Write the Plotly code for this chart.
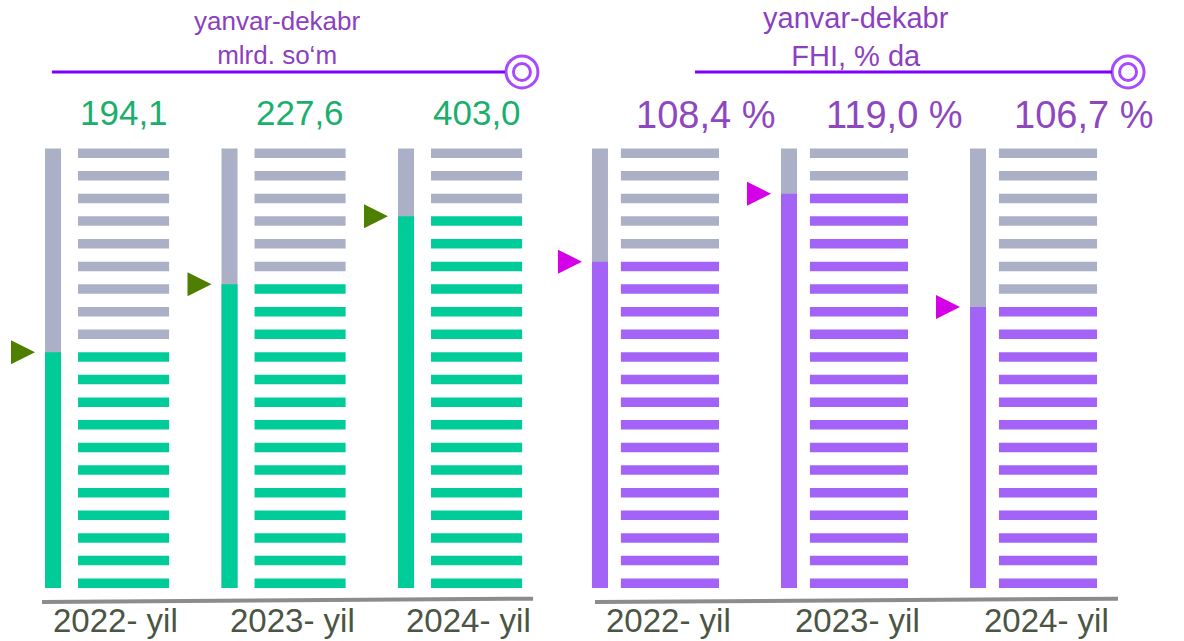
import plotly.graph_objects as go

years = ["2022- yil", "2023- yil", "2024- yil"]
som_labels = ["194,1", "227,6", "403,0"]
fhi_labels = ["108,4 %", "119,0 %", "106,7 %"]
som_filled = [11, 14, 17]   # coloured stripes out of 20
fhi_filled = [15, 18, 13]
n_stripes = 20

GRAY = "#abb0c6"
GREEN = "#00cc99"
PURPLE = "#a463f7"
HEAD = "#8c3fc0"
LINE = "#7f00ff"
FONT = "Liberation Sans, Arial, sans-serif"
STRIPE_H = 0.42

fig = go.Figure()


def add_panel(xa, ya, filled, fill_color, arrow_color, bar_off, bar_w, stripe_off, stripe_w):
    cols = list(range(len(filled)))
    # horizontal stripes, coloured from the bottom up
    xs, bases, colors = [], [], []
    for j, n in enumerate(filled):
        for i in range(n_stripes):
            xs.append(j)
            bases.append(i)
            colors.append(fill_color if i < n else GRAY)
    fig.add_trace(go.Bar(x=xs, y=[STRIPE_H] * len(xs), base=bases, width=stripe_w, offset=stripe_off,
                         marker=dict(color=colors, line_width=0), xaxis=xa, yaxis=ya, hoverinfo="skip"))
    # vertical gauge: grey track + coloured level
    top = n_stripes - 1 + STRIPE_H
    levels = [n - 1 + STRIPE_H for n in filled]
    fig.add_trace(go.Bar(x=cols, y=[top] * len(cols), base=0, width=bar_w, offset=bar_off,
                         marker=dict(color=GRAY, line_width=0), xaxis=xa, yaxis=ya, hoverinfo="skip"))
    fig.add_trace(go.Bar(x=cols, y=levels, base=0, width=bar_w, offset=bar_off,
                         marker=dict(color=fill_color, line_width=0), xaxis=xa, yaxis=ya, hoverinfo="skip"))
    # pointer triangles at the level
    for j, lv in enumerate(levels):
        fig.add_shape(type="path", xref=xa, yref=ya, xsizemode="pixel", ysizemode="pixel",
                      xanchor=j + bar_off, yanchor=lv, path="M -34,12 L -10,0 L -34,-12 Z",
                      fillcolor=arrow_color, line_width=0)


add_panel("x", "y", som_filled, GREEN, "#4f7f00", -0.351, 0.0907, -0.164, 0.516)
add_panel("x2", "y2", fhi_filled, PURPLE, "#d400e8", -0.336, 0.0847, -0.183, 0.519)

# value labels
for j, t in enumerate(som_labels):
    fig.add_annotation(x=j, y=21.0, xref="x", yref="y", text=t, showarrow=False, xshift=17,
                       font=dict(family=FONT, size=35, color="#1aaf6c"))
for j, t in enumerate(fhi_labels):
    fig.add_annotation(x=j, y=20.9, xref="x2", yref="y2", text=t, showarrow=False, xshift=50,
                       font=dict(family=FONT, size=38, color="#8f47bf"))

# year labels
for xa, ya, sh in (("x", "y", 9), ("x2", "y2", 13)):
    for j, t in enumerate(years):
        fig.add_annotation(x=j, y=-1.45, xref=xa, yref=ya, text=t, showarrow=False, xshift=sh,
                           font=dict(family=FONT, size=33, color="#4b5544"))

# headers
fig.add_annotation(x=1, y=24.3, xref="x", yref="y", text="yanvar-dekabr<br>mlrd. so‘m", showarrow=False,
                   xshift=-6, font=dict(family=FONT, size=26, color=HEAD))
fig.add_annotation(x=1.06, y=24.35, xref="x2", yref="y2", text="yanvar-dekabr<br>FHI, % da", showarrow=False,
                   font=dict(family=FONT, size=29, color=HEAD))

# header rules with ring ends, and base lines
for xa, ya, x0, x1, xc in (("x", "y", -0.312, 2.255, 2.351), ("x2", "y2", 0.209, 2.415, 2.5)):
    fig.add_shape(type="line", xref=xa, yref=ya, x0=x0, x1=x1, y0=22.8, y1=22.8, line=dict(color=LINE, width=3))
    fig.add_trace(go.Scatter(x=[xc, xc], y=[22.8, 22.8], mode="markers", xaxis=xa, yaxis=ya, hoverinfo="skip",
                             marker=dict(symbol="circle-open", size=[32, 17], color=LINE, line=dict(width=3)),
                             cliponaxis=False))
for xa, ya, x0, x1 in (("x", "y", -0.368, 2.414), ("x2", "y2", -0.32, 2.447)):
    fig.add_shape(type="line", xref=xa, yref=ya, x0=x0, x1=x1, y0=-0.62, y1=-0.47,
                  line=dict(color="#8c8c8c", width=4))

ax = dict(visible=False, fixedrange=True)
fig.update_layout(
    width=1184, height=641, margin=dict(l=0, r=0, t=0, b=0),
    paper_bgcolor="white", plot_bgcolor="white", showlegend=False, barmode="overlay",
    xaxis=dict(ax, domain=[0, 550 / 1184], range=[-0.606, 2.510], anchor="y"),
    xaxis2=dict(ax, domain=[550 / 1184, 1], range=[-0.558, 2.796], anchor="y2"),
    yaxis=dict(ax, domain=[0, 1], range=[-2.342, 25.98], anchor="x"),
    yaxis2=dict(ax, domain=[0, 1], range=[-2.342, 25.98], anchor="x2"),
)

fig.write_html("out.html", config={"displayModeBar": False},
               post_script="document.body.style.margin='0';")
